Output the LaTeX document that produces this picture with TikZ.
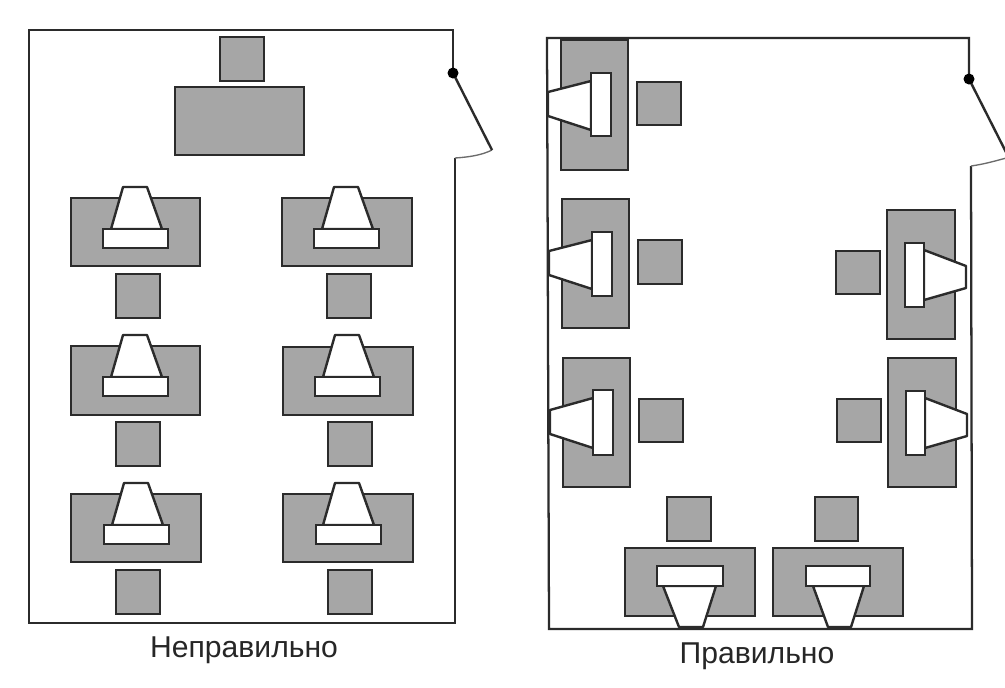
\documentclass[tikz,border=0pt]{standalone}
\usepackage{fontspec}
\setmainfont{Liberation Sans}
\definecolor{deskgray}{HTML}{A6A6A6}
\definecolor{inkgray}{HTML}{2B2B2B}
\tikzset{
  wall/.style={draw=inkgray,line width=1.7pt,line join=miter},
  doorleaf/.style={draw=inkgray,line width=1.8pt},
  doorarc/.style={draw=inkgray!70,line width=1pt},
  hinge/.style={fill=black},
  desk/.style={draw=inkgray,line width=1.8pt,fill=deskgray},
  seat/.style={draw=inkgray,line width=1.8pt,fill=deskgray},
  monitor/.style={draw=inkgray,line width=1.8pt,fill=white,line join=round},
  keyboard/.style={draw=inkgray,line width=1.8pt,fill=white},
  caption/.style={anchor=center,inner sep=0.75pt,text=black!85,font=\fontsize{22.6}{26}\selectfont}
}
\begin{document}
\begin{tikzpicture}[x=0.75pt,y=0.75pt,yscale=-1,xscale=1]
\clip (0,0) rectangle (1005,687);
\fill[white] (0,0) rectangle (1005,687);
% left room
\draw[wall] (453,73) -- (453,30) -- (29,30) -- (29,623) -- (455,623) -- (455,158);
\draw[doorarc] (455,158) .. controls (470,157) and (482,155) .. (492,150);
\draw[doorleaf] (453,73) -- (492,150);
\fill[hinge] (453,73) circle (5.5);
\draw[seat] (220,37) rectangle (264,81);
\draw[desk] (175,87) rectangle (304,155);
% left room, first column
\draw[desk] (71,198) rectangle (200,266);
\draw[monitor] (111,229) -- (123,187) -- (147,187) -- (162,229) -- cycle;
\draw[keyboard] (103,229) rectangle (168,248);
\draw[seat] (116,274) rectangle (160,318);
\draw[desk] (71,346) rectangle (200,415);
\draw[monitor] (111,377) -- (123,335) -- (147,335) -- (162,377) -- cycle;
\draw[keyboard] (103,377) rectangle (168,396);
\draw[seat] (116,422) rectangle (160,466);
\draw[desk] (71,494) rectangle (201,562);
\draw[monitor] (112,525) -- (124,483) -- (148,483) -- (163,525) -- cycle;
\draw[keyboard] (104,525) rectangle (169,544);
\draw[seat] (116,570) rectangle (160,614);
% left room, second column
\draw[desk] (282,198) rectangle (412,266);
\draw[monitor] (322,229) -- (334,187) -- (358,187) -- (373,229) -- cycle;
\draw[keyboard] (314,229) rectangle (379,248);
\draw[seat] (327,274) rectangle (371,318);
\draw[desk] (283,347) rectangle (413,415);
\draw[monitor] (323,377) -- (335,335) -- (359,335) -- (374,377) -- cycle;
\draw[keyboard] (315,377) rectangle (380,396);
\draw[seat] (328,422) rectangle (372,466);
\draw[desk] (283,494) rectangle (413,562);
\draw[monitor] (323,525) -- (335,483) -- (359,483) -- (374,525) -- cycle;
\draw[keyboard] (316,525) rectangle (381,544);
\draw[seat] (328,570) rectangle (372,614);
% right room
\draw[wall] (969,79) -- (969,38) -- (547,38) -- (549,629) -- (972,629) -- (971,166);
\draw[doorarc] (971,166) .. controls (985,164) and (995,161) .. (1010,157);
\draw[doorleaf] (969,79) -- (1010,160);
\fill[hinge] (969,79) circle (5.5);
% right room, window side
\draw[desk] (561,40) rectangle (628,170);
\draw[monitor] (591,81) -- (548,92) -- (548,116) -- (591,130) -- cycle;
\draw[keyboard] (591,73) rectangle (611,136);
\draw[seat] (637,82) rectangle (681,125);
\draw[desk] (562,199) rectangle (629,328);
\draw[monitor] (592,240) -- (549,251) -- (549,275) -- (592,289) -- cycle;
\draw[keyboard] (592,232) rectangle (612,296);
\draw[seat] (638,240) rectangle (682,284);
\draw[desk] (563,358) rectangle (630,487);
\draw[monitor] (593,398) -- (550,410) -- (550,434) -- (593,448) -- cycle;
\draw[keyboard] (593,390) rectangle (613,455);
\draw[seat] (639,399) rectangle (683,442);
% right room, door side
\draw[desk] (887,210) rectangle (955,339);
\draw[monitor] (924,250) -- (966,266) -- (966,288) -- (924,300) -- cycle;
\draw[keyboard] (905,243) rectangle (924,307);
\draw[seat] (836,251) rectangle (880,294);
\draw[desk] (888,358) rectangle (956,487);
\draw[monitor] (925,398) -- (967,414) -- (967,436) -- (925,448) -- cycle;
\draw[keyboard] (906,391) rectangle (925,455);
\draw[seat] (837,399) rectangle (881,442);
% right room, bottom row
\draw[desk] (625,548) rectangle (755,616);
\draw[monitor] (663,586) -- (679,627) -- (703,627) -- (716,586) -- cycle;
\draw[keyboard] (657,566) rectangle (723,586);
\draw[seat] (667,497) rectangle (711,541);
\draw[desk] (773,548) rectangle (903,616);
\draw[monitor] (813,586) -- (828,627) -- (851,627) -- (864,586) -- cycle;
\draw[keyboard] (806,566) rectangle (870,586);
\draw[seat] (815,497) rectangle (858,541);
% captions
\node[caption] (wrongcaption) at (244,650) {Неправильно};
\node[caption] (rightcaption) at (757,656) {Правильно};
\end{tikzpicture}
\end{document}
